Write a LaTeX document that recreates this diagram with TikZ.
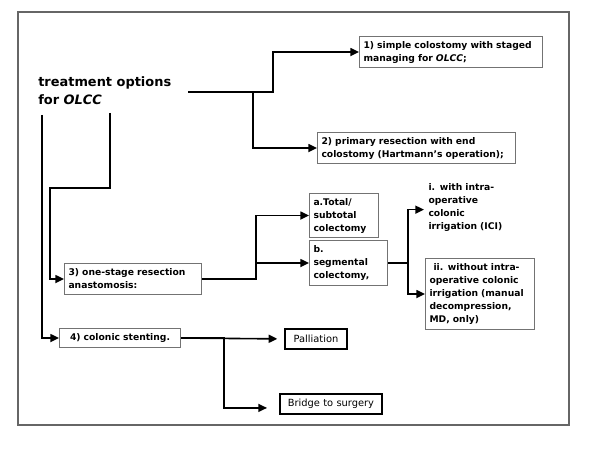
\documentclass[tikz,border=0pt]{standalone}
\usepackage{fontspec}
\setmainfont{DejaVu Sans}
\usetikzlibrary{arrows.meta}
\definecolor{boxgray}{gray}{0.45}
\definecolor{framegray}{gray}{0.4}
\tikzset{
	box/.style={draw=boxgray,line width=0.8pt,fill=white,anchor=north west,align=left,
		inner xsep=3pt,inner ysep=0pt,font=\fontsize{6.9}{9.75}\selectfont\bfseries},
	blackbox/.style={box,draw=black,line width=1.4pt,align=center,font=\fontsize{7.4}{9.75}\selectfont},
	arr/.style={-{Triangle[length=6.5pt,width=6pt]},line width=1.2pt},
}
\begin{document}
\begin{tikzpicture}[x=0.75pt,y=-0.75pt,line join=miter]
			\useasboundingbox (0,0) rectangle (600,456);
			\draw[framegray,line width=1pt] (18,12) rectangle (569,425);
			
			\path (188,92) coordinate (t0)
			(110,113) coordinate (ta)
			(42,115) coordinate (tb)
			;
			
			\node[anchor=north west,inner sep=0pt,align=left,font=\fontsize{9.7}{13.5}\selectfont\bfseries]
			(title) at (38,76) {treatment options\\for \textit{OLCC}};
			
			\node[box,text width=131pt,minimum height=23.25pt] (b1) at (359,36)
			{1) simple colostomy with staged\\managing for \textit{OLCC};};
			\node[box,text width=142.5pt,minimum height=23.25pt] (b2) at (317,132)
			{2) primary resection with end\\colostomy (Hartmann's operation);};
			\node[box,text width=96.75pt,minimum height=23.25pt] (b3) at (64,263)
			{3) one-stage resection\\anastomosis:};
			\node[box,text width=45.75pt,minimum height=33pt] (ba) at (309,193)
			{a.Total/\\subtotal\\colectomy};
			\node[box,text width=52.5pt,minimum height=33.75pt] (bb) at (309,240)
			{b.\\segmental\\colectomy,};
			\node[box,draw=none,fill=none,anchor=west,text width=75pt] (ti) at (424,207)
			{i. with intra-\\operative\\colonic\\irrigation (ICI)};
			\node[box,text width=75.75pt,minimum height=53.25pt] (bii) at (425,258)
			{\hspace{3pt}ii. without intra-\\operative colonic\\irrigation (manual\\decompression,\\MD, only)};
			\node[box,align=center,text width=84.75pt,minimum height=14.25pt] (b4) at (59,328)
			{4) colonic stenting.};
			\node[blackbox,text width=40.5pt,minimum height=15pt] (bp) at (284,328) {Palliation};
			\node[blackbox,text width=70.5pt,minimum height=15pt] (bbr) at (279,393) {Bridge to surgery};
			
			% first level
			\draw[arr] (t0) -- ++(85,0) |- (b1.west);
			\draw[arr] (t0) ++(65,0) |- (b2.west);
			\draw[line width=1.2pt] (t0) -- ++(65,0);
			\draw[arr] (ta) -- ++(0,75) -- ++(-60,0) |- (b3.west);
			\draw[arr] (tb) |- (b4.west);
			
			% one-stage resection
			\draw[arr] (b3.east) -- ++(54,0) coordinate (j3) |- (ba.west);
			\draw[arr] (j3) |- (bb.west);
			\draw[arr] (bb.east) -- ++(20,0) coordinate (j4) |- ([yshift=-2pt]ti.west);
			\draw[arr] (j4) |- (bii.west);
			
			% stenting
			\draw[arr,shorten >=5pt] (b4.east) -- (bp.west);
			\draw[arr,shorten >=9pt] (b4.east) -- ++(43,0) |- ([yshift=-3pt]bbr.west);
	\end{tikzpicture}
\end{document}
